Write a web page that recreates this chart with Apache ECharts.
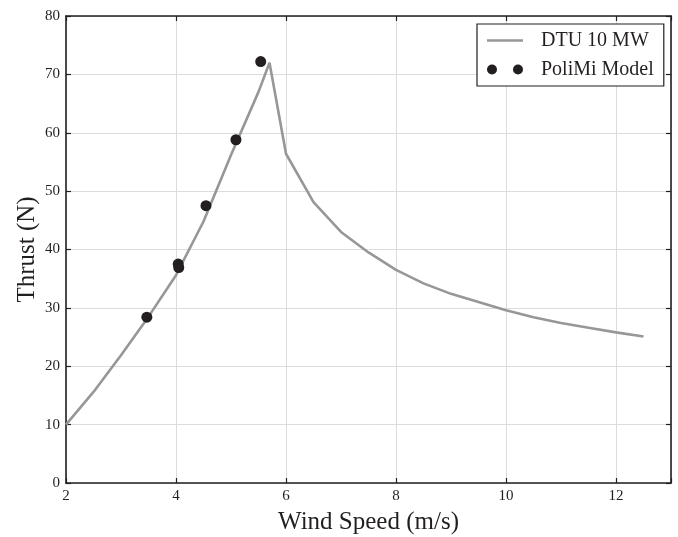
<!DOCTYPE html>
<html>
<head>
<meta charset="utf-8">
<script src="https://cdn.jsdelivr.net/npm/echarts@6/dist/echarts.min.js"></script>
<style>html,body{margin:0;padding:0;background:#fff;}#c{width:678px;height:537px;}</style>
</head>
<body>
<div id="c"></div>
<script>
const dtuWind = [2, 2.5, 3, 3.5, 4, 4.5, 5, 5.5, 5.7, 6, 6.5, 7, 7.5, 8, 8.5, 9, 9.5, 10, 10.5, 11, 11.5, 12, 12.5];
const dtuThrust = [10.0, 15.6, 21.9, 28.5, 35.6, 44.8, 56.2, 67.0, 72.0, 56.4, 48.1, 43.0, 39.5, 36.5, 34.2, 32.4, 31.0, 29.6, 28.4, 27.4, 26.6, 25.8, 25.1];
const polimiWind = [3.47, 4.04, 4.05, 4.545, 5.09, 5.54];
const polimiThrust = [28.4, 37.5, 36.9, 47.5, 58.8, 72.2];
const xTicks = [2, 4, 6, 8, 10, 12];
const yTicks = [0, 10, 20, 30, 40, 50, 60, 70, 80];

const FONT = '"Liberation Serif", "DejaVu Serif", serif';
const dtuData = dtuWind.map((x, i) => [x, dtuThrust[i]]);
const polimiData = polimiWind.map((x, i) => [x, polimiThrust[i]]);

const frame = { show: true, onZero: false, lineStyle: { color: '#231f20', width: 1.6 } };
const tick = { show: true, inside: true, length: 5, lineStyle: { color: '#231f20', width: 1.2 } };
const xLabelFmt = v => xTicks.includes(v) ? String(v) : '';

const chart = echarts.init(document.getElementById('c'), null, { renderer: 'canvas' });
chart.setOption({
  animation: false,
  backgroundColor: '#fff',
  grid: { left: 66, right: 7, top: 16, bottom: 54, containLabel: false, outerBoundsMode: 'none' },
  xAxis: [{
    type: 'value', min: 2, max: 13, interval: 2,
    name: 'Wind Speed (m/s)', nameLocation: 'middle', nameGap: 27,
    nameTextStyle: { fontFamily: FONT, fontSize: 25, color: '#231f20' },
    axisLine: frame, axisTick: tick,
    axisLabel: { fontFamily: FONT, fontSize: 15, color: '#231f20', margin: 6, formatter: xLabelFmt },
    splitLine: { show: true, lineStyle: { color: '#dcdcdc', width: 1 } }
  }, {
    type: 'value', min: 2, max: 13, interval: 2, position: 'top',
    axisLine: frame, axisTick: tick, axisLabel: { show: false }, splitLine: { show: false }
  }],
  yAxis: [{
    type: 'value', min: 0, max: 80, interval: 10,
    name: 'Thrust (N)', nameLocation: 'middle', nameGap: 26, nameRotate: 90, nameMoveOverlap: false,
    nameTextStyle: { fontFamily: FONT, fontSize: 25, color: '#231f20' },
    axisLine: frame, axisTick: tick,
    axisLabel: { fontFamily: FONT, fontSize: 15, color: '#231f20', margin: 6,
      formatter: v => yTicks.includes(v) ? String(v) : '' },
    splitLine: { show: true, lineStyle: { color: '#dcdcdc', width: 1 } }
  }, {
    type: 'value', min: 0, max: 80, interval: 10, position: 'right',
    axisLine: frame, axisTick: tick, axisLabel: { show: false }, splitLine: { show: false }
  }],
  legend: {
    left: 477, top: 24, orient: 'vertical',
    padding: [6, 10, 6, 10], itemGap: 8,
    itemWidth: 36, itemHeight: 10, symbolKeepAspect: true,
    borderColor: '#231f20', borderWidth: 1.2, backgroundColor: '#fff',
    textStyle: { fontFamily: FONT, fontSize: 20, color: '#231f20', lineHeight: 21, padding: [0, 0, 0, 13] },
    data: [
      { name: 'DTU 10 MW', icon: 'path://M0,4h36v2.6h-36Z' },
      { name: 'PoliMi Model', icon: 'path://M0,5a5,5 0 1,0 10,0a5,5 0 1,0 -10,0ZM26,5a5,5 0 1,0 10,0a5,5 0 1,0 -10,0Z' }
    ]
  },
  series: [{
    name: 'DTU 10 MW', type: 'line', data: dtuData,
    symbol: 'none', showSymbol: false,
    lineStyle: { color: '#979797', width: 2.6 }, itemStyle: { color: '#979797' },
    z: 2
  }, {
    name: 'PoliMi Model', type: 'scatter', data: polimiData,
    symbol: 'circle', symbolSize: 11,
    itemStyle: { color: '#231f20', opacity: 1 }, z: 3
  }]
});
</script>
</body>
</html>
